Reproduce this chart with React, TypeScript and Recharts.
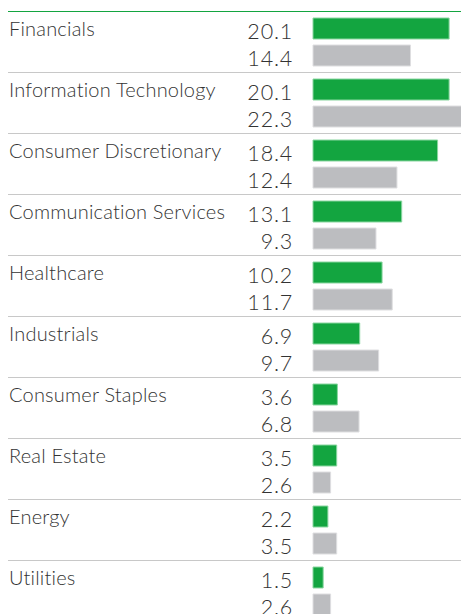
import React from "react";
import { BarChart, Bar, XAxis, YAxis, LabelList } from "recharts";

const categories = [
  "Financials",
  "Information Technology",
  "Consumer Discretionary",
  "Communication Services",
  "Healthcare",
  "Industrials",
  "Consumer Staples",
  "Real Estate",
  "Energy",
  "Utilities",
];
const greenValues = [20.1, 20.1, 18.4, 13.1, 10.2, 6.9, 3.6, 3.5, 2.2, 1.5];
const grayValues = [14.4, 22.3, 12.4, 9.3, 11.7, 9.7, 6.8, 2.6, 3.5, 2.6];

const data = categories.map((name, i) => ({
  name,
  green: greenValues[i],
  gray: grayValues[i],
}));

const FONT = "Lato, 'Open Sans', sans-serif";
const GREEN = "#13a540";
const GRAY = "#bcbdc0";
const TEXT = "#333333";

const CHART_H = 630;
const MARGIN_TOP = 11;
const MARGIN_BOTTOM = 9;
const BAND = (CHART_H - MARGIN_TOP - MARGIN_BOTTOM) / categories.length;

function CategoryTick(props: any) {
  const { y, payload, index } = props;
  const top = y - BAND / 2;
  return (
    <g>
      <line
        x1={8}
        x2={470}
        y1={top + 0.5}
        y2={top + 0.5}
        stroke={index === 0 ? GREEN : "#c8c8c8"}
        strokeWidth={1}
      />
      <text
        x={9}
        y={y - 5.5}
        textAnchor="start"
        fill={TEXT}
        fontSize={20}
        fontFamily={FONT}
        fontWeight={300}
        letterSpacing={0.2}
      >
        {payload.value}
      </text>
    </g>
  );
}

function ValueLabel(props: any) {
  const { x, y, height, value } = props;
  return (
    <text
      x={x - 20}
      y={y + height}
      textAnchor="end"
      fill={TEXT}
      fontSize={21.5}
      fontFamily={FONT}
      fontWeight={300}
      letterSpacing={0.8}
    >
      {Number(value).toFixed(1)}
    </text>
  );
}

export default function App() {
  return (
    <div
      style={{
        position: "absolute",
        left: 0,
        top: 0,
        width: 461,
        height: 614,
        overflow: "hidden",
        background: "#fff",
      }}
    >
      <BarChart
        width={464}
        height={CHART_H}
        data={data}
        layout="vertical"
        margin={{ top: MARGIN_TOP, right: 0, bottom: MARGIN_BOTTOM, left: 0 }}
        barSize={21}
        barGap={6}
        barCategoryGap={0}
      >
        <XAxis type="number" domain={[0, 22.3]} hide />
        <YAxis
          type="category"
          dataKey="name"
          width={313}
          axisLine={false}
          tickLine={false}
          interval={0}
          tick={<CategoryTick />}
        />
        <Bar
          dataKey="green"
          fill={GREEN}
          stroke="#8ad6a0"
          strokeWidth={1}
          isAnimationActive={false}
        >
          <LabelList dataKey="green" content={<ValueLabel />} />
        </Bar>
        <Bar
          dataKey="gray"
          fill={GRAY}
          stroke="#dedee0"
          strokeWidth={1}
          isAnimationActive={false}
        >
          <LabelList dataKey="gray" content={<ValueLabel />} />
        </Bar>
      </BarChart>
    </div>
  );
}
